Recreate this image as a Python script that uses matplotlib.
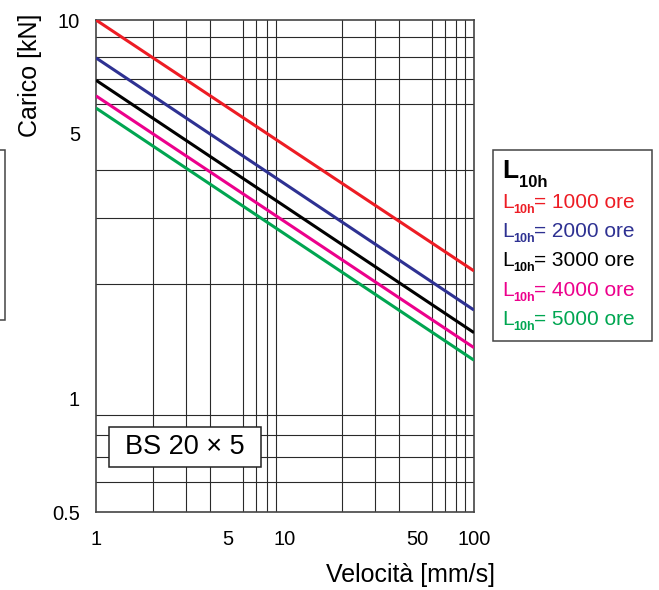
import matplotlib
matplotlib.use("Agg")
import matplotlib.pyplot as plt
from matplotlib.patches import Rectangle

plt.rcParams['font.family'] = ['Liberation Sans', 'DejaVu Sans']

# ---- data ----
speed = [1, 100]                      # mm/s
load_1000 = [10.0, 2.17]              # kN
load_2000 = [7.94, 1.71]
load_3000 = [6.93, 1.49]
load_4000 = [6.30, 1.36]
load_5000 = [5.85, 1.26]
series_labels = ["1000", "2000", "3000", "4000", "5000"]
series_colors = ["#ed1c24", "#2e3192", "#000000", "#ec008c", "#00a651"]

x_ticks = [1, 5, 10, 50, 100]
x_ticklabels = ["1", "5", "10", "50", "100"]
y_ticks = [0.5, 1, 5, 10]
y_ticklabels = ["0.5", "1", "5", "10"]
x_grid = [1, 2, 3, 4, 5, 6, 7, 8, 9, 10, 20, 30, 40, 50, 60, 70, 80, 90, 100]
y_grid = [0.5, 0.6, 0.7, 0.8, 0.9, 1, 2, 3, 4, 5, 6, 7, 8, 9, 10]

W, H = 659, 590
fig = plt.figure(figsize=(W / 100, H / 100), dpi=100)

def fx(px):
    return px / W

def fy(py):
    return 1 - py / H

ax = fig.add_axes([fx(96), fy(512), (474 - 96) / W, (512 - 20) / H])
ax.set_xscale('log')
ax.set_yscale('log')
ax.set_xlim(1, 100)
ax.set_ylim(0.5, 10)

ax.set_xticks(x_grid, minor=True)
ax.set_yticks(y_grid, minor=True)
ax.set_xticks(x_ticks)
ax.set_xticklabels(x_ticklabels)
ax.set_yticks(y_ticks)
ax.set_yticklabels(y_ticklabels)
ax.xaxis.set_minor_formatter(matplotlib.ticker.NullFormatter())
ax.yaxis.set_minor_formatter(matplotlib.ticker.NullFormatter())
ax.tick_params(which='both', length=0)
ax.tick_params(axis='x', pad=13, labelsize=14.5)
ax.tick_params(axis='y', pad=11.5, labelsize=14.5)
ax.grid(which='minor', color='#2a2a2a', linewidth=0.8)
ax.grid(which='major', visible=False)
for s in ax.spines.values():
    s.set_color('#444444')
    s.set_linewidth(1.2)

all_loads = [load_1000, load_2000, load_3000, load_4000, load_5000]
for loads, c in zip(all_loads, series_colors):
    ax.plot(speed, loads, color=c, linewidth=2.2, solid_capstyle='butt', zorder=3)

# BS box
fig.patches.append(Rectangle((fx(109), fy(467)), (261 - 109) / W, (467 - 427) / H,
                             transform=fig.transFigure, facecolor='white', edgecolor='#222222',
                             linewidth=1.1, figure=fig, zorder=5))
fig.text(fx(185), fy(447), "BS 20 × 5", ha='center', va='center', fontsize=19.5, zorder=6)

# axis labels
fig.text(fx(30), fy(75), "Carico [kN]", rotation=90, ha='center', va='center', fontsize=18)
fig.text(fx(410), fy(575), "Velocità [mm/s]", ha='center', va='center', fontsize=18)

# legend box
fig.patches.append(Rectangle((fx(493), fy(341)), (652 - 493) / W, (341 - 150) / H,
                             transform=fig.transFigure, fill=False, edgecolor='#444444',
                             linewidth=1.1, figure=fig))
fig.text(fx(502), fy(178), "L", fontsize=19, fontweight='bold', va='baseline', ha='left')
fig.text(fx(519), fy(187), "10h", fontsize=12, fontweight='bold', va='baseline', ha='left')
baselines = [208, 237, 266, 296, 325]
for lab, c, b in zip(series_labels, series_colors, baselines):
    fig.text(fx(502), fy(b), "L", fontsize=15, color=c, va='baseline', ha='left')
    fig.text(fx(513), fy(b + 5), "10h", fontsize=9, fontweight='bold', color=c,
             va='baseline', ha='left')
    fig.text(fx(534), fy(b), "= " + lab + " ore", fontsize=15, color=c,
             va='baseline', ha='left')

# partial box at left edge (cropped element of the original figure)
fig.patches.append(Rectangle((fx(-20), fy(320)), 25 / W, (320 - 150) / H,
                             transform=fig.transFigure, fill=False, edgecolor='#444444',
                             linewidth=1.1, figure=fig))

fig.savefig("out.png", dpi=100)
